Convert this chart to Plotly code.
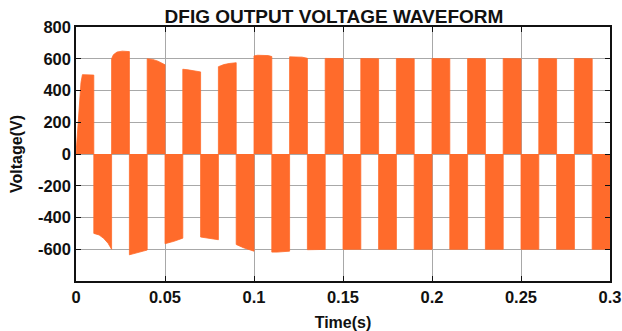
import plotly.graph_objects as go

# ---- data ----
# Each half-cycle block of the (PWM-filled) DFIG voltage: envelope sample times and voltages
block_times = [
    [0.0, 0.0008, 0.0018, 0.0028, 0.0036, 0.01],
    [0.01, 0.013, 0.0155, 0.018, 0.02],
    [0.02, 0.021, 0.023, 0.026, 0.03],
    [0.03, 0.035, 0.04],
    [0.04, 0.043, 0.046, 0.05],
    [0.05, 0.055, 0.06],
    [0.06, 0.063, 0.07],
    [0.07, 0.075, 0.08],
    [0.08, 0.083, 0.086, 0.09],
    [0.09, 0.094, 0.1],
    [0.1, 0.102, 0.108, 0.11],
    [0.11, 0.113, 0.12],
    [0.12, 0.127, 0.13],
    [0.13, 0.14],
    [0.14, 0.15],
    [0.15, 0.16],
    [0.16, 0.17],
    [0.17, 0.18],
    [0.18, 0.19],
    [0.19, 0.2],
    [0.2, 0.21],
    [0.21, 0.22],
    [0.22, 0.23],
    [0.23, 0.24],
    [0.24, 0.25],
    [0.25, 0.26],
    [0.26, 0.27],
    [0.27, 0.28],
    [0.28, 0.29],
    [0.29, 0.3],
]
block_volts = [
    [0, 150, 330, 450, 500, 497],
    [-500, -510, -531, -562, -600],
    [600, 625, 642, 648, 645],
    [-635, -622, -605],
    [600, 596, 585, 562],
    [-565, -550, -530],
    [534, 530, 517],
    [-523, -530, -540],
    [550, 563, 570, 575],
    [-570, -590, -612],
    [618, 622, 620, 614],
    [-618, -618, -612],
    [612, 610, 603],
    [-603, -601],
    [602, 601],
    [-600, -600],
    [601, 600],
    [-600, -600],
    [601, 600],
    [-600, -600],
    [601, 600],
    [-600, -600],
    [601, 600],
    [-600, -600],
    [601, 600],
    [-600, -600],
    [601, 600],
    [-600, -600],
    [601, 600],
    [-600, -600],
]

x_ticks = [0, 0.05, 0.1, 0.15, 0.2, 0.25, 0.3]
x_tick_labels = ["0", "0.05", "0.1", "0.15", "0.2", "0.25", "0.3"]
y_ticks = [-600, -400, -200, 0, 200, 400, 600, 800]
y_tick_labels = ["-600", "-400", "-200", "0", "200", "400", "600", "800"]

# ---- build the waveform envelope (filled to zero) ----
xs, ys = [], []
for t_list, v_list in zip(block_times, block_volts):
    xs.extend(t_list)
    ys.extend(v_list)

ORANGE = "#ff6b2b"
FONT = "Liberation Sans, Arial, sans-serif"
INK = "#111111"

W, H = 622, 331

fig = go.Figure()
fig.add_trace(go.Scatter(
    x=xs, y=ys, mode="lines",
    line=dict(color=ORANGE, width=0.8),
    fill="tozeroy", fillcolor=ORANGE,
    hoverinfo="skip", showlegend=False,
))

axis_common = dict(
    showgrid=True, gridcolor="#a8a8a8", gridwidth=1,
    zeroline=False, automargin=False,
    showline=True, linecolor=INK, linewidth=1.5, mirror="ticks",
    ticks="inside", ticklen=5, tickcolor=INK,
    tickfont=dict(family=FONT, size=16.5, color=INK, weight="bold"),
)

fig.update_layout(
    width=W, height=H,
    margin=dict(l=76, r=12, t=27, b=50, autoexpand=False),
    paper_bgcolor="white", plot_bgcolor="white",
    title=dict(
        text="DFIG OUTPUT VOLTAGE WAVEFORM",
        font=dict(family=FONT, size=19, color=INK, weight="bold"),
        x=334 / W, xanchor="center", xref="container",
        y=1 - 16 / H, yanchor="middle", yref="container",
        automargin=False,
    ),
    xaxis=dict(
        range=[0, 0.3], tickvals=x_ticks, ticktext=x_tick_labels,
        title=dict(text="Time(s)", font=dict(family=FONT, size=16, color=INK, weight="bold"), standoff=12),
        **axis_common,
    ),
    yaxis=dict(
        range=[-800, 800], tickvals=y_ticks, ticktext=y_tick_labels,
        title=dict(text="Voltage(V)", font=dict(family=FONT, size=16, color=INK, weight="bold"), standoff=11),
        **axis_common,
    ),
)

# remove the default page margin so the figure fills the 622x331 window exactly
fig.write_html(
    "out.html",
    config={"displayModeBar": False},
    post_script="document.body.style.margin='0';document.body.style.overflow='hidden';",
)
